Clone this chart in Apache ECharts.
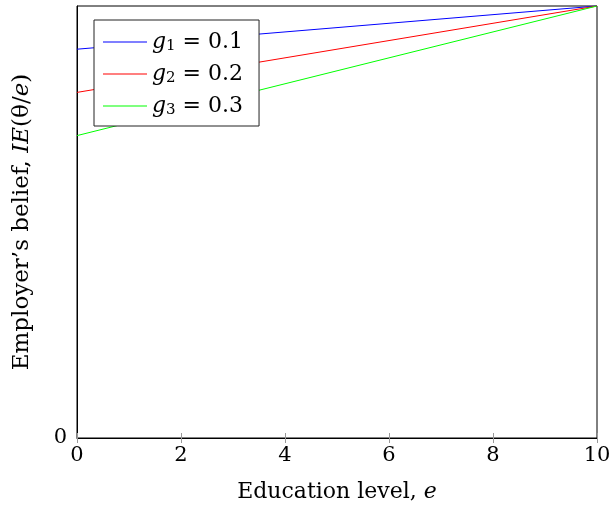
<!DOCTYPE html>
<html><head><meta charset="utf-8">
<script src="https://cdn.jsdelivr.net/npm/echarts@6/dist/echarts.min.js"></script>
<style>html,body{margin:0;padding:0;background:#fff}#c{width:609px;height:508px}</style>
</head><body><div id="c"></div>
<script>
const educationX = [0, 10];
const beliefG1 = [0.9, 1.0];
const beliefG2 = [0.8, 1.0];
const beliefG3 = [0.7, 1.0];
const seriesNames = ['g1', 'g2', 'g3'];
const seriesLabels = {g1: ['1', '0.1'], g2: ['2', '0.2'], g3: ['3', '0.3']};
const seriesColors = ['#0000ff', '#ff0000', '#00ff00'];
const xTicks = [0, 2, 4, 6, 8, 10];

const font = 'DejaVu Serif';
const chart = echarts.init(document.getElementById('c'), null, {renderer: 'canvas'});
const mk = (name, ys, color) => ({
  name, type: 'line', symbol: 'none', clip: false,
  data: educationX.map((x, i) => [x, ys[i]]),
  lineStyle: {color, width: 1}, itemStyle: {color}
});
chart.setOption({
  animation: false,
  grid: {left: 77, right: 12, top: 6, bottom: 70, show: true, borderColor: '#000', borderWidth: 1,
         containLabel: false, outerBoundsMode: 'none'},
  legend: {
    left: 94, top: 20, orient: 'vertical',
    padding: [10, 16, 8, 9],
    backgroundColor: '#fff', borderColor: '#222', borderWidth: 1,
    itemWidth: 44, itemHeight: 1, itemGap: 8,
    data: seriesNames.map((n, i) => ({name: n, icon: 'rect', itemStyle: {color: seriesColors[i], borderWidth: 0}})),
    formatter: n => '{i|g}{s|' + seriesLabels[n][0] + '}{t| = ' + seriesLabels[n][1] + '}',
    textStyle: {
      fontFamily: font, fontSize: 21, color: '#000', lineHeight: 24,
      rich: {
        i: {fontFamily: font, fontStyle: 'italic', fontSize: 22, lineHeight: 24, color: '#000'},
        s: {fontFamily: font, fontSize: 15, lineHeight: 15, color: '#000', padding: [9, 0, 0, 0]},
        t: {fontFamily: font, fontSize: 22, lineHeight: 24, color: '#000'}
      }
    }
  },
  xAxis: [{
    type: 'value', min: 0, max: 10, interval: 2,
    name: 'Education level, {i|e}', nameLocation: 'middle', nameGap: 43,
    nameTextStyle: {fontFamily: font, fontSize: 22, color: '#000',
      rich: {i: {fontFamily: font, fontStyle: 'italic', fontSize: 22, color: '#000'}}},
    axisLine: {show: true, onZero: false, lineStyle: {color: '#000', width: 1}},
    axisTick: {show: true, inside: true, length: 5, lineStyle: {color: '#999'}},
    axisLabel: {fontFamily: font, fontSize: 21, color: '#000', margin: 7,
      formatter: v => xTicks.includes(v) ? String(v) : ''},
    splitLine: {show: false}
  }, {
    type: 'value', min: 0, max: 10, interval: 2, position: 'top',
    axisLine: {show: false},
    axisTick: {show: true, inside: true, length: 5, lineStyle: {color: '#999'}},
    axisLabel: {show: false}, splitLine: {show: false}
  }],
  yAxis: {
    type: 'value', min: 0, max: 1, interval: 1,
    name: "Employer\u2019s belief, {i|IE}(\u03b8/{i|e})", nameLocation: 'middle', nameGap: 43, nameRotate: 90,
    nameTextStyle: {fontFamily: font, fontSize: 23, color: '#000',
      rich: {i: {fontFamily: font, fontStyle: 'italic', fontSize: 23, color: '#000'}}},
    axisLine: {show: true, lineStyle: {color: '#000', width: 1}},
    axisTick: {show: false},
    axisLabel: {fontFamily: font, fontSize: 21, color: '#000', margin: 10,
      formatter: v => v === 0 ? '0' : ''},
    splitLine: {show: false}
  },
  series: [
    mk(seriesNames[0], beliefG1, seriesColors[0]),
    mk(seriesNames[1], beliefG2, seriesColors[1]),
    mk(seriesNames[2], beliefG3, seriesColors[2])
  ]
});
</script></body></html>
